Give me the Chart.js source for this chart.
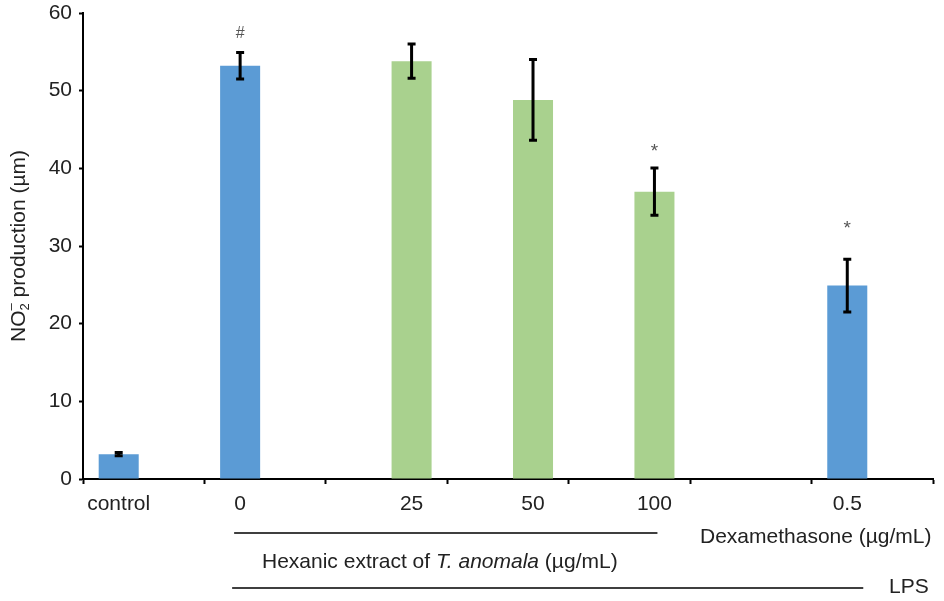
<!DOCTYPE html>
<html>
<head>
<meta charset="utf-8">
<script src="https://cdn.jsdelivr.net/npm/chart.js@4/dist/chart.umd.min.js"></script>
<style>
  html, body { margin: 0; padding: 0; background: #fff; }
  #wrap { width: 944px; height: 601px; }
</style>
</head>
<body>
<div id="wrap"><canvas id="grafico" width="944" height="601"></canvas></div>
<script>
// categorias do eixo x (a sexta fica vazia, como no original)
const categorias = ['control', '0', '25', '50', '100', '', '0.5'];
// barras azuis (controle, LPS, dexametasona)
const valoresAzul = [3.2, 53.2, null, null, null, null, 24.9];
// barras verdes (extrato hexanico)
const valoresVerde = [null, null, 53.8, 48.8, 37.0, null, null];
// desvio (barra de erro) de cada categoria
const erros = [0.2, 1.7, 2.2, 5.2, 3.05, null, 3.4];
// marcas de significancia e a altura (no eixo y) onde ficam
const marcas = ['', '#', '', '', '*', '', '*'];
const alturaMarcas = [null, 57.4, null, null, 42.8, null, 32.8];
const ticksY = [0, 10, 20, 30, 40, 50, 60];

const fonte = '"Liberation Sans", Arial, sans-serif';
const corTexto = '#222';
const tam = 21;

const extras = {
    id: 'extras',
    afterDatasetsDraw(chart) {
        const ctx = chart.ctx;
        const y = chart.scales.y;
        const metaA = chart.getDatasetMeta(0);
        const metaV = chart.getDatasetMeta(1);
        const xs = [];
        for (let i = 0; i < categorias.length; i++) {
            if (valoresAzul[i] != null) xs[i] = metaA.data[i].x;
            else if (valoresVerde[i] != null) xs[i] = metaV.data[i].x;
            else xs[i] = null;
        }

        // barras de erro
        ctx.save();
        ctx.strokeStyle = '#000';
        ctx.lineWidth = 3;
        for (let i = 0; i < categorias.length; i++) {
            if (xs[i] == null || erros[i] == null) continue;
            const v = valoresAzul[i] != null ? valoresAzul[i] : valoresVerde[i];
            const yTop = y.getPixelForValue(v + erros[i]);
            const yBot = y.getPixelForValue(v - erros[i]);
            ctx.beginPath();
            ctx.moveTo(xs[i], yTop);
            ctx.lineTo(xs[i], yBot);
            ctx.moveTo(xs[i] - 4, yTop);
            ctx.lineTo(xs[i] + 4, yTop);
            ctx.moveTo(xs[i] - 4, yBot);
            ctx.lineTo(xs[i] + 4, yBot);
            ctx.stroke();
        }
        ctx.restore();

        // marcas # e *
        ctx.save();
        ctx.fillStyle = '#555';
        ctx.textAlign = 'center';
        ctx.textBaseline = 'middle';
        for (let i = 0; i < categorias.length; i++) {
            if (!marcas[i]) continue;
            const dy = marcas[i] === '*' ? 5 : 0;
            ctx.font = (marcas[i] === '*' ? '19px ' : '16px ') + fonte;
            ctx.fillText(marcas[i], xs[i], y.getPixelForValue(alturaMarcas[i]) + dy);
        }
        ctx.restore();

        // rotulos do eixo x, centrados em cada barra
        ctx.save();
        ctx.fillStyle = corTexto;
        ctx.font = tam + 'px ' + fonte;
        ctx.textAlign = 'center';
        ctx.textBaseline = 'middle';
        for (let i = 0; i < categorias.length; i++) {
            if (xs[i] == null) continue;
            ctx.fillText(categorias[i], xs[i], 504);
        }

        // linhas e textos abaixo do eixo
        ctx.strokeStyle = '#000';
        ctx.lineWidth = 1.5;
        ctx.beginPath();
        ctx.moveTo(xs[1] - 6, 533);
        ctx.lineTo(xs[4] + 3, 533);
        ctx.moveTo(xs[1] - 8, 588);
        ctx.lineTo(xs[6] + 16, 588);
        ctx.stroke();

        ctx.textAlign = 'left';
        const partes = [
            ['Hexanic extract of ', ''],
            ['T. anomala', 'italic '],
            [' (µg/mL)', '']
        ];
        let px = 262;
        partes.forEach(p => {
            ctx.font = p[1] + tam + 'px ' + fonte;
            ctx.fillText(p[0], px, 562);
            px += ctx.measureText(p[0]).width;
        });
        ctx.font = tam + 'px ' + fonte;
        ctx.fillText('Dexamethasone (µg/mL)', 700, 537);
        ctx.fillText('LPS', 889, 587);

        // titulo do eixo y com NO2- (subscrito e sobrescrito empilhados)
        const area = chart.chartArea;
        ctx.translate(19, (area.top + area.bottom) / 2);
        ctx.rotate(-Math.PI / 2);
        const t1 = 'NO';
        const t2 = ' production (µm)';
        ctx.font = '13px ' + fonte;
        const wSub = ctx.measureText('2').width;
        ctx.font = tam + 'px ' + fonte;
        const total = ctx.measureText(t1).width + wSub + ctx.measureText(t2).width;
        let tx = -total / 2;
        ctx.fillText(t1, tx, 0);
        tx += ctx.measureText(t1).width;
        ctx.font = '13px ' + fonte;
        ctx.fillText('2', tx, 6);
        ctx.fillText('\u2013', tx, -8);
        tx += wSub;
        ctx.font = tam + 'px ' + fonte;
        ctx.fillText(t2, tx, 0);
        ctx.restore();
    }
};

function criarGrafico() {
    const contexto = document.getElementById('grafico').getContext('2d');
    new Chart(contexto, {
        type: 'bar',
        data: {
            labels: categorias,
            datasets: [{
                data: valoresAzul,
                backgroundColor: '#5B9BD5',
                categoryPercentage: 0.824,
                barPercentage: 0.8
            }, {
                data: valoresVerde,
                backgroundColor: '#A9D18E',
                categoryPercentage: 0.824,
                barPercentage: 0.8
            }]
        },
        options: {
            responsive: false,
            animation: false,
            layout: { padding: { left: 0, right: 11, top: 13, bottom: 0 } },
            plugins: {
                legend: { display: false },
                tooltip: { enabled: false }
            },
            scales: {
                x: {
                    grid: {
                        offset: true,
                        drawOnChartArea: false,
                        drawTicks: true,
                        tickLength: 5,
                        tickColor: '#000',
                        tickWidth: 2
                    },
                    border: { color: '#000', width: 2 },
                    ticks: { display: false },
                    afterFit(scale) { scale.height = 122; }
                },
                y: {
                    min: 0,
                    max: 60,
                    afterBuildTicks(scale) {
                        scale.ticks = ticksY.map(v => ({ value: v }));
                    },
                    grid: {
                        drawOnChartArea: false,
                        drawTicks: true,
                        tickLength: 4,
                        tickColor: '#000',
                        tickWidth: 2
                    },
                    border: { color: '#000', width: 2 },
                    ticks: {
                        color: corTexto,
                        padding: 7,
                        font: { family: fonte, size: tam }
                    },
                    afterFit(scale) {
                        scale.width = 83;
                        scale.paddingTop = 0;
                        scale.paddingBottom = 0;
                    }
                }
            }
        },
        plugins: [extras]
    });
}

criarGrafico();
</script>
</body>
</html>
